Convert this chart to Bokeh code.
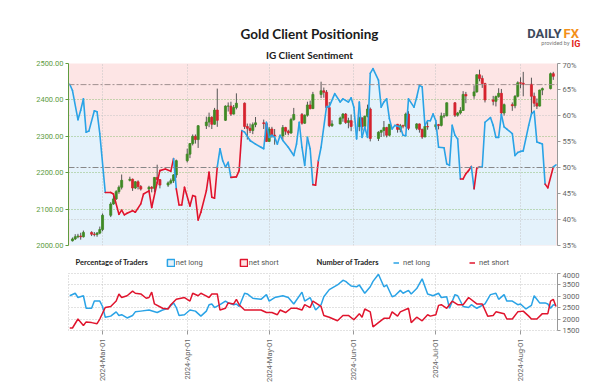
import math
import pandas as pd
from bokeh.plotting import figure
from bokeh.layouts import column
from bokeh.models import (Range1d, LinearAxis, FixedTicker, NumeralTickFormatter, PrintfTickFormatter,
                          DatetimeTickFormatter, Grid, Span, Label, Legend, LegendItem, ColumnDataSource)
from bokeh.embed import file_html
from bokeh.resources import INLINE

# ---------------- data ----------------
candle_dates = [d for d in pd.bdate_range("2024-02-19", "2024-08-13") if d != pd.Timestamp("2024-03-29")]
opens = [2013, 2018, 2024, 2026, 2024, 2036, 2031, 2030, 2034,
         2044, 2083, 2114, 2128, 2148, 2160, 2179, 2182, 2158, 2175, 2162, 2155, 2160, 2157, 2187, 2181, 2166, 2172, 2178, 2194,
         2233, 2251, 2280, 2300, 2291, 2329, 2339, 2352, 2333, 2372, 2344, 2383, 2383, 2361, 2379, 2391, 2327, 2322, 2316, 2332, 2337, 2335,
         2286, 2320, 2303, 2301, 2324, 2314, 2309, 2346, 2360, 2336, 2358, 2386, 2376, 2415, 2425, 2421, 2379, 2329, 2334, 2350, 2361, 2338, 2343,
         2327, 2350, 2327, 2355, 2375, 2294, 2311, 2316, 2324, 2303, 2333, 2319, 2329, 2328, 2361, 2322, 2334, 2319, 2298, 2327,
         2326, 2332, 2330, 2356, 2356, 2392, 2358, 2364, 2371, 2415, 2411, 2422, 2469, 2459, 2445, 2400, 2396, 2409, 2418, 2364, 2387, 2384, 2410,
         2447, 2446, 2443, 2410, 2391, 2383, 2427, 2431, 2472]
highs = [2022, 2031, 2032, 2035, 2041, 2039, 2037, 2037, 2052,
         2088, 2119, 2141, 2152, 2165, 2195, 2189, 2184, 2177, 2179, 2166, 2164, 2163, 2188, 2222, 2182, 2176, 2184, 2196, 2236,
         2266, 2281, 2305, 2305, 2331, 2354, 2365, 2355, 2378, 2431, 2385, 2393, 2395, 2386, 2418, 2393, 2335, 2335, 2338, 2353, 2346, 2336,
         2326, 2326, 2320, 2331, 2326, 2318, 2351, 2378, 2364, 2360, 2395, 2398, 2422, 2450, 2434, 2427, 2394, 2344, 2354, 2364, 2364, 2351, 2360,
         2354, 2353, 2357, 2387, 2379, 2314, 2318, 2342, 2326, 2333, 2334, 2334, 2332, 2365, 2369, 2336, 2335, 2321, 2330, 2339,
         2339, 2334, 2365, 2364, 2393, 2394, 2367, 2380, 2424, 2422, 2440, 2470, 2483, 2467, 2447, 2411, 2412, 2432, 2430, 2390, 2393, 2413, 2451,
         2462, 2477, 2461, 2420, 2404, 2428, 2434, 2475, 2477]
lows = [2011, 2015, 2020, 2016, 2022, 2026, 2025, 2024, 2031,
        2039, 2078, 2112, 2125, 2142, 2154, 2176, 2150, 2155, 2154, 2151, 2146, 2146, 2146, 2170, 2157, 2161, 2168, 2172, 2186,
        2228, 2240, 2275, 2280, 2268, 2320, 2325, 2320, 2332, 2326, 2342, 2368, 2356, 2360, 2374, 2320, 2291, 2309, 2306, 2325, 2320, 2285,
        2285, 2296, 2277, 2291, 2304, 2303, 2307, 2343, 2332, 2334, 2354, 2374, 2375, 2405, 2406, 2373, 2325, 2326, 2333, 2340, 2334, 2322, 2314,
        2314, 2316, 2323, 2352, 2286, 2287, 2298, 2300, 2297, 2300, 2310, 2311, 2322, 2325, 2317, 2317, 2310, 2293, 2298, 2318,
        2318, 2319, 2327, 2350, 2355, 2353, 2354, 2360, 2370, 2391, 2403, 2420, 2451, 2433, 2393, 2385, 2382, 2406, 2353, 2357, 2370, 2377, 2407,
        2432, 2410, 2364, 2381, 2375, 2382, 2413, 2429, 2455]
closes = [2018, 2024, 2026, 2024, 2036, 2031, 2030, 2034, 2044,
          2083, 2114, 2128, 2148, 2160, 2179, 2182, 2158, 2175, 2162, 2155, 2160, 2157, 2187, 2181, 2166, 2172, 2178, 2194, 2233,
          2251, 2280, 2300, 2291, 2329, 2339, 2352, 2333, 2372, 2344, 2383, 2383, 2361, 2379, 2391, 2327, 2322, 2316, 2332, 2337, 2335, 2286,
          2320, 2303, 2301, 2324, 2314, 2309, 2346, 2360, 2336, 2358, 2386, 2376, 2415, 2425, 2421, 2379, 2329, 2334, 2350, 2361, 2338, 2343, 2327,
          2350, 2327, 2355, 2375, 2294, 2311, 2316, 2324, 2303, 2333, 2319, 2329, 2328, 2361, 2322, 2334, 2319, 2298, 2327, 2326,
          2332, 2330, 2356, 2356, 2392, 2358, 2364, 2371, 2415, 2411, 2422, 2469, 2459, 2445, 2400, 2396, 2409, 2418, 2364, 2387, 2384, 2410, 2447,
          2446, 2443, 2410, 2391, 2383, 2427, 2431, 2472, 2465]

sent_dates = ["02-18", "02-19", "02-21", "02-22", "02-23", "02-24", "02-25", "02-27", "02-28", "02-29",
              "03-02", "03-04", "03-05", "03-07", "03-08", "03-09", "03-10", "03-12", "03-13", "03-15", "03-16",
              "03-18", "03-19", "03-21", "03-22", "03-24", "03-26", "03-27", "03-28", "03-29", "03-30", "03-31",
              "04-02", "04-03", "04-04", "04-05", "04-06", "04-08", "04-09", "04-10", "04-11", "04-12", "04-13",
              "04-14", "04-15", "04-16", "04-17", "04-19", "04-20", "04-21", "04-22", "04-24", "04-26", "04-28",
              "04-29", "04-30", "05-01", "05-02", "05-03", "05-04", "05-05", "05-06", "05-08", "05-10", "05-11",
              "05-12", "05-13", "05-14", "05-15", "05-16", "05-17", "05-18", "05-19", "05-20", "05-22", "05-23",
              "05-25", "05-27", "05-28", "05-30", "05-31", "06-01", "06-02", "06-03", "06-04", "06-05", "06-06",
              "06-07", "06-08", "06-10", "06-11", "06-12", "06-13", "06-14", "06-15", "06-16", "06-18", "06-19",
              "06-20", "06-21", "06-23", "06-24", "06-25", "06-26", "06-27", "06-28", "06-29", "06-30", "07-01",
              "07-02", "07-04", "07-05", "07-06", "07-07", "07-08", "07-09", "07-10", "07-11", "07-12", "07-13",
              "07-14", "07-15", "07-16", "07-17", "07-18", "07-19", "07-21", "07-22", "07-23", "07-24", "07-25",
              "07-26", "07-27", "07-29", "07-30", "07-31", "08-01", "08-02", "08-04", "08-05", "08-06", "08-07",
              "08-08", "08-09", "08-10", "08-11", "08-13", "08-14"]
sent_long_pct = [66.0, 64.8, 59.2, 61.0, 63.2, 56.8, 57.0, 60.9, 60.7, 56.5,
                 45.2, 45.2, 44.9, 41.0, 41.8, 40.9, 41.2, 41.7, 41.4, 43.0, 44.9,
                 45.5, 42.3, 47.1, 49.4, 49.7, 49.3, 51.7, 45.9, 42.8, 42.8, 46.2,
                 42.6, 44.6, 44.4, 39.9, 41.4, 45.5, 49.1, 44.3, 44.1, 50.1, 53.6,
                 51.3, 50.1, 51.0, 48.1, 48.2, 49.4, 57.1, 56.8, 55.2, 54.5, 53.9,
                 53.6, 58.7, 55.8, 56.2, 55.8, 54.5, 56.2, 55.2, 53.9, 52.3, 54.5,
                 58.7, 53.9, 50.4, 55.8, 53.6, 46.7, 46.6, 51.3, 53.9, 61.7, 61.7,
                 64.2, 62.6, 63.2, 62.6, 63.4, 61.6, 55.5, 62.6, 55.8, 57.8, 55.8,
                 68.1, 69.0, 66.8, 61.6, 62.6, 63.2, 59.4, 57.4, 58.1, 57.8, 56.2,
                 56.1, 63.2, 61.6, 63.5, 65.8, 65.5, 58.1, 59.0, 59.0, 60.3, 59.0,
                 53.9, 53.8, 50.7, 50.4, 58.1, 56.2, 55.5, 47.8, 47.8, 48.8, 49.4,
                 50.2, 45.9, 49.9, 50.1, 50.1, 58.7, 59.6, 58.1, 55.8, 55.8, 60.2,
                 57.8, 57.4, 56.5, 52.3, 52.9, 53.1, 53.2, 58.1, 60.3, 60.8, 54.9,
                 54.7, 54.5, 46.8, 46.1, 50.1, 50.5]

long_dates = ["02-18", "02-20", "02-21", "02-23", "02-24", "02-26", "02-27", "02-29", "03-01", "03-02",
              "03-04", "03-06", "03-07", "03-08", "03-10", "03-12", "03-13", "03-15", "03-18", "03-21",
              "03-23", "03-25", "03-27", "03-28", "03-29", "03-31", "04-02", "04-04", "04-06", "04-08",
              "04-09", "04-10", "04-11", "04-13", "04-15", "04-16", "04-18", "04-19", "04-20", "04-22",
              "04-23", "04-25", "04-28", "04-30", "05-01", "05-03", "05-06", "05-08", "05-10", "05-13",
              "05-14", "05-16", "05-17", "05-18", "05-20", "05-21", "05-23", "05-26", "05-28", "05-29",
              "05-31", "06-02", "06-03", "06-05", "06-07", "06-08", "06-10", "06-12", "06-13", "06-15",
              "06-16", "06-18", "06-19", "06-21", "06-22", "06-24", "06-26", "06-28", "06-30", "07-02",
              "07-03", "07-05", "07-06", "07-08", "07-09", "07-11", "07-13", "07-14", "07-16", "07-19",
              "07-21", "07-23", "07-24", "07-26", "07-27", "07-29", "07-31", "08-01", "08-03", "08-05",
              "08-06", "08-08", "08-10", "08-11", "08-12", "08-13", "08-14"]
long_traders = [3025, 3135, 2947, 3025, 2475, 2475, 2790, 2790, 2554, 2082,
                2130, 2318, 2160, 2192, 2050, 2160, 2318, 2350, 2397, 2287,
                2397, 2475, 2711, 2507, 2160, 2192, 2397, 2350, 2130, 2350,
                2632, 2664, 2507, 2632, 2790, 2711, 2632, 2664, 2554, 3135,
                3104, 2915, 2868, 3073, 2790, 2947, 3025, 2947, 2664, 3183,
                2790, 2947, 2664, 2397, 2632, 2978, 3293, 3497, 3701, 3654,
                3450, 3418, 3497, 3135, 3418, 3654, 3969, 3418, 3497, 2978,
                3025, 3261, 3135, 3261, 3104, 3340, 3764, 3104, 3025, 3135,
                2947, 2978, 2475, 3073, 3025, 2554, 2507, 2632, 2475, 2664,
                3073, 3135, 2868, 3073, 2790, 2790, 2632, 2664, 2444, 2601,
                3025, 2711, 2711, 2664, 2475, 2632, 2601]

short_dates = ["02-18", "02-19", "02-21", "02-23", "02-24", "02-26", "02-28", "02-29", "03-02", "03-04",
               "03-06", "03-07", "03-08", "03-10", "03-12", "03-13", "03-15", "03-17", "03-18", "03-19",
               "03-20", "03-23", "03-25", "03-26", "03-28", "03-31", "04-02", "04-03", "04-05", "04-06",
               "04-07", "04-09", "04-10", "04-12", "04-13", "04-15", "04-16", "04-18", "04-19", "04-20",
               "04-22", "04-25", "04-28", "04-30", "05-02", "05-04", "05-05", "05-07", "05-09", "05-11",
               "05-13", "05-14", "05-16", "05-17", "05-18", "05-20", "05-21", "05-23", "05-26", "05-28",
               "05-30", "06-01", "06-03", "06-04", "06-05", "06-07", "06-08", "06-10", "06-12", "06-14",
               "06-15", "06-17", "06-18", "06-21", "06-22", "06-24", "06-26", "06-28", "06-29", "07-01",
               "07-02", "07-03", "07-05", "07-07", "07-09", "07-11", "07-13", "07-16", "07-18", "07-20",
               "07-22", "07-23", "07-26", "07-27", "07-29", "07-31", "08-02", "08-04", "08-05", "08-07",
               "08-09", "08-11", "08-12", "08-13", "08-14"]
short_traders = [1610, 1610, 2004, 1720, 1878, 1846, 1799, 2004, 2507, 2554,
                 2790, 3104, 2947, 3025, 3230, 3135, 3104, 2915, 2947, 3183,
                 2664, 2475, 2444, 2632, 2868, 2947, 2790, 3135, 3025, 3135,
                 3073, 2947, 3104, 3104, 2397, 2475, 2711, 2664, 2868, 2632,
                 2397, 2397, 2397, 2287, 2287, 2192, 2397, 2287, 2475, 2475,
                 2397, 2632, 2507, 2790, 2711, 2554, 2160, 2082, 1925, 2160,
                 2160, 1972, 2239, 2082, 2444, 2318, 1658, 1846, 2035, 2035,
                 2318, 2130, 2318, 2475, 1846, 2082, 1925, 2192, 2130, 2192,
                 2601, 2632, 2475, 2790, 2632, 2632, 2947, 2664, 2664, 2130,
                 2160, 2318, 2239, 2004, 2004, 2318, 2350, 2130, 2004, 2004,
                 2239, 2239, 2790, 2868, 2554]

month_ticks = ["2024-03-01", "2024-04-01", "2024-05-01", "2024-06-01", "2024-07-01", "2024-08-01"]
price_ticks = [2000, 2100, 2200, 2300, 2400, 2500]
pct_ticks = [35, 40, 45, 50, 55, 60, 65, 70]
pct_grid = [40, 60]
trader_ticks = [1500, 2000, 2500, 3000, 3500, 4000]
price_ref_level = 2442
neutral_pct = 50

# ---------------- style ----------------
FONT = "Roboto"
TFONT = "Lato"
BLUE = "#2aa3e6"
RED = "#e0142d"
GREEN = "#5e9c3f"
UP = "#3f8a25"
DOWN = "#d6232e"
PINK = "#fde5e5"
LBLUE = "#e4f2fb"
GRAY = "#666666"
DOT = "1 2"
LEFT = 68          # left border shared by every row (rows are frame-aligned)
HW = 516           # frame width of the text-only rows


def ms(d):
    return pd.Timestamp(d).value // 10**6


xr = Range1d(start=ms("2024-02-17 13:00"), end=ms("2024-08-14 13:00"))
month_ms = [ms(d) for d in month_ticks]

cd = pd.DatetimeIndex(candle_dates)
s_x = pd.to_datetime(["2024-" + d for d in sent_dates])
l_x = pd.to_datetime(["2024-" + d for d in long_dates])
sh_x = pd.to_datetime(["2024-" + d for d in short_dates])


def lab(plot, text, px, y, size, color="#222222", font=FONT, style="normal", align="left", baseline="middle"):
    # px is the page x position; labels are placed relative to the frame, which starts at LEFT
    plot.add_layout(Label(x=px - LEFT, y=y, x_units="screen", y_units="screen", text=text,
                          text_font=font, text_font_size=size, text_color=color,
                          text_font_style=style, text_align=align, text_baseline=baseline))


def blank(h):
    f = figure(frame_width=HW, frame_height=h, x_range=Range1d(0, HW), y_range=Range1d(0, h),
               x_axis_location=None, y_axis_location=None, output_backend="svg", toolbar_location=None,
               min_border_left=LEFT, min_border_right=0, min_border_top=0, min_border_bottom=0,
               outline_line_color=None)
    f.grid.visible = False
    return f


# ---------------- header ----------------
head = blank(60)
lab(head, "Gold Client Positioning", 309, 26.2, "13.5px", "#1a1a1a", TFONT, "bold", "center", "alphabetic")
lab(head, "IG Client Sentiment", 309, 6.0, "10px", "#1a1a1a", TFONT, "bold", "center", "alphabetic")
lab(head, "DAILY", 561, 26.7, "13px", "#3d4a5c", FONT, "bold", "right", "alphabetic")
lab(head, "FX", 563, 26.7, "13px", "#f39019", FONT, "bold", "left", "alphabetic")
lab(head, "provided by", 569, 17.5, "5.5px", "#777777", FONT, "normal", "right", "alphabetic")
lab(head, "IG", 571, 16.7, "9px", "#e2231a", FONT, "bold", "left", "alphabetic")

# ---------------- top chart ----------------
p1 = figure(frame_width=489, frame_height=182, x_range=xr, y_range=Range1d(2000, 2500),
            x_axis_type="datetime", x_axis_location=None, y_axis_location="left",
            output_backend="svg", toolbar_location=None,
            min_border_left=LEFT, min_border_right=0, min_border_top=3, min_border_bottom=5,
            background_fill_color=PINK, outline_line_color=None, border_fill_color="white")
p1.extra_y_ranges = {"pct": Range1d(35, 70)}

ya = p1.yaxis[0]
ya.ticker = FixedTicker(ticks=price_ticks)
ya.formatter = NumeralTickFormatter(format="0.00")
ya.axis_line_color = GREEN
ya.major_tick_line_color = GREEN
ya.minor_tick_line_color = None
ya.major_tick_out = 3
ya.major_tick_in = 0
ya.major_label_text_color = GREEN
ya.major_label_text_font = FONT
ya.major_label_text_font_size = "7.5px"
ya.major_label_standoff = 2

ra = LinearAxis(y_range_name="pct", ticker=FixedTicker(ticks=pct_ticks),
                formatter=PrintfTickFormatter(format="%d%%"))
ra.axis_line_color = "#999999"
ra.major_tick_line_color = "#999999"
ra.minor_tick_line_color = None
ra.major_tick_out = 3
ra.major_tick_in = 0
ra.major_label_text_color = GRAY
ra.major_label_text_font = FONT
ra.major_label_text_font_size = "7.5px"
ra.major_label_standoff = 2
p1.add_layout(ra, "right")

p1.xgrid.ticker = FixedTicker(ticks=month_ms)
p1.xgrid.grid_line_color = "#c4c4c4"
p1.xgrid.grid_line_dash = DOT
p1.ygrid.ticker = FixedTicker(ticks=price_ticks)
p1.ygrid.grid_line_color = "#8fbf74"
p1.ygrid.grid_line_dash = DOT
p1.add_layout(Grid(dimension=1, ticker=FixedTicker(ticks=pct_grid), y_range_name="pct",
                   grid_line_color="#c4c4c4", grid_line_dash=DOT))

p1.varea(x=s_x, y1=35, y2=sent_long_pct, fill_color=LBLUE, y_range_name="pct", level="image")

wick_src = ColumnDataSource(dict(x=cd, lo=lows, hi=highs))
p1.segment(x0="x", y0="lo", x1="x", y1="hi", source=wick_src, line_color="#555555", line_width=1)
body = ColumnDataSource(dict(x=cd, o=opens, c=closes,
                             col=[UP if c >= o else DOWN for o, c in zip(opens, closes)]))
p1.vbar(x="x", width=0.75 * 86400000, bottom="o", top="c", source=body,
        fill_color="col", line_color="col", line_width=0.8)

seg = ColumnDataSource(dict(x0=s_x[:-1], y0=sent_long_pct[:-1], x1=s_x[1:], y1=sent_long_pct[1:],
                            col=[BLUE if v >= neutral_pct else RED for v in sent_long_pct[:-1]]))
p1.segment(x0="x0", y0="y0", x1="x1", y1="y1", source=seg, line_color="col", line_width=1.6,
           line_cap="round", y_range_name="pct")

p1.add_layout(Span(location=neutral_pct, dimension="width", y_range_name="pct",
                   line_color="#888888", line_dash="6 2 2 2", line_width=1))
p1.add_layout(Span(location=price_ref_level, dimension="width",
                   line_color="#a09090", line_dash="6 2 2 2", line_width=1))

# ---------------- legend row ----------------
legrow = blank(22)
q_long = legrow.quad(left=[-20], right=[-10], top=[5], bottom=[0], fill_color=LBLUE, line_color=BLUE, line_width=1.5)
q_short = legrow.quad(left=[-20], right=[-10], top=[5], bottom=[0], fill_color=PINK, line_color=RED, line_width=1.5)
l_long = legrow.line(x=[-20, -10], y=[5, 5], line_color=BLUE, line_width=1.5)
l_short = legrow.line(x=[-20, -10], y=[5, 5], line_color=RED, line_width=1.5)
common = dict(orientation="horizontal", padding=0, margin=0, border_line_color=None,
              background_fill_alpha=0, label_text_font_size="7.5px", label_text_color="#555555",
              label_text_font=FONT, glyph_height=9, label_height=9, spacing=5)
leg1 = Legend(items=[LegendItem(label="net long", renderers=[q_long]),
                     LegendItem(label="net short", renderers=[q_short])],
              location=(165.8 - LEFT, 5.5), glyph_width=9, label_standoff=1, label_width=58, **common)
leg2 = Legend(items=[LegendItem(label="net long", renderers=[l_long]),
                     LegendItem(label="net short", renderers=[l_short])],
              location=(393 - LEFT, 5.5), glyph_width=6, label_standoff=4, label_width=61, **common)
legrow.add_layout(leg1)
legrow.add_layout(leg2)
lab(legrow, "Percentage of Traders", 75, 10, "7.5px", "#222222", TFONT, "bold", "left")
lab(legrow, "Number of Traders", 316, 10, "7.5px", "#222222", TFONT, "bold", "left")

# ---------------- bottom chart ----------------
p2 = figure(frame_width=489, frame_height=57, x_range=xr, y_range=Range1d(1500, 4000),
            x_axis_type="datetime", y_axis_location="right",
            output_backend="svg", toolbar_location=None,
            min_border_left=LEFT, min_border_right=0, min_border_top=1, min_border_bottom=50,
            outline_line_color="#c4c4c4", outline_line_dash=DOT, border_fill_color="white")

xa = p2.xaxis[0]
xa.ticker = FixedTicker(ticks=month_ms)
fmt = "%Y-%b-%d"
xa.formatter = DatetimeTickFormatter(days=fmt, months=fmt, years=fmt, hours=fmt)
xa.major_label_orientation = math.pi / 2
xa.axis_line_color = None
xa.major_tick_line_color = "#999999"
xa.minor_tick_line_color = None
xa.major_tick_out = 4
xa.major_tick_in = 0
xa.major_label_standoff = 4
xa.major_label_text_color = GRAY
xa.major_label_text_font = FONT
xa.major_label_text_font_size = "7.5px"

yb = p2.yaxis[0]
yb.ticker = FixedTicker(ticks=trader_ticks)
yb.axis_line_color = "#999999"
yb.major_tick_line_color = "#999999"
yb.minor_tick_line_color = None
yb.major_tick_out = 3
yb.major_tick_in = 0
yb.major_label_text_color = GRAY
yb.major_label_text_font = FONT
yb.major_label_text_font_size = "7.5px"
yb.major_label_standoff = 2

p2.xgrid.ticker = FixedTicker(ticks=month_ms)
p2.xgrid.grid_line_color = "#c4c4c4"
p2.xgrid.grid_line_dash = DOT
p2.ygrid.grid_line_color = "#c4c4c4"
p2.ygrid.grid_line_dash = DOT

p2.line(l_x, long_traders, line_color=BLUE, line_width=1.5)
p2.line(sh_x, short_traders, line_color=RED, line_width=1.5)

layout = column(head, p1, legrow, p2, spacing=0)
open("out.html", "w").write(file_html(layout, INLINE))
